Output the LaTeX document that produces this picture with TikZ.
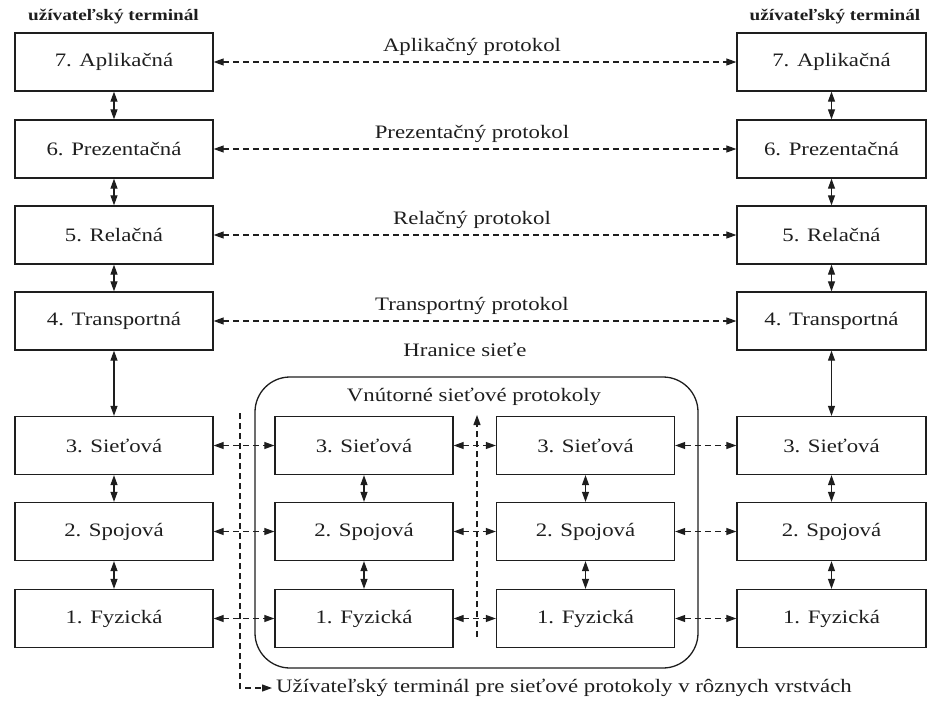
\documentclass[tikz,border=0pt]{standalone}
\usepackage{fontspec}
\setmainfont{Liberation Serif}[FakeStretch=1.2]
\usetikzlibrary{arrows.meta}
\definecolor{ink}{HTML}{1e1e1e}
\begin{document}
\begin{tikzpicture}[x=1pt,y=-1pt,
  >={Triangle[length=10pt,width=7pt]},
  layer/.style={draw=ink, line width=1.3pt, minimum height=58pt, inner sep=0pt, text=ink, font=\fontsize{19}{21}\selectfont},
  lw/.style={layer, minimum width=198pt},
  rw/.style={layer, minimum width=189pt},
  iw/.style={layer, minimum width=178pt},
  dual/.style={draw=ink, line width=1.1pt, <->},
  dashdual/.style={dual, dash pattern=on 6pt off 4pt},
  oneway/.style={draw=ink, line width=1.1pt, dash pattern=on 6pt off 4pt, ->},
  lbl/.style={text=ink, font=\fontsize{19}{21}\selectfont, inner sep=0pt},
  hdr/.style={text=ink, font=\bfseries\fontsize{16}{18}\selectfont, inner sep=0pt}]
\useasboundingbox (0,0) rectangle (929,704);

% headers
\node[hdr] (hl) at (113.5,17) {užívateľský terminál};
\node[hdr] (hr) at (835,17) {užívateľský terminál};

% left column
\node[lw] (L7) at (114,62) {7. Aplikačná};
\node[lw] (L6) at (114,149) {6. Prezentačná};
\node[lw] (L5) at (114,235) {5. Relačná};
\node[lw] (L4) at (114,321) {4. Transportná};
\node[lw] (L3) at (114,445.5) {3. Sieťová};
\node[lw] (L2) at (114,531.5) {2. Spojová};
\node[lw] (L1) at (114,618.5) {1. Fyzická};

% right column
\node[rw] (R7) at (831.5,62) {7. Aplikačná};
\node[rw] (R6) at (831.5,149) {6. Prezentačná};
\node[rw] (R5) at (831.5,235) {5. Relačná};
\node[rw] (R4) at (831.5,321) {4. Transportná};
\node[rw] (R3) at (831.5,445.5) {3. Sieťová};
\node[rw] (R2) at (831.5,531.5) {2. Spojová};
\node[rw] (R1) at (831.5,618.5) {1. Fyzická};

% network boundary
\node[draw=ink, line width=1.3pt, rounded corners=35pt, minimum width=443pt, minimum height=291pt, inner sep=0pt] (net) at (476.5,522.5) {};
\node[lbl] (hran) at (465,350) {Hranice sieťe};
\node[lbl] (vnut) at (474,397) {Vnútorné sieťové protokoly};

% inner nodes
\node[iw] (I3) at (364,445.5) {3. Sieťová};
\node[iw] (I2) at (364,531.5) {2. Spojová};
\node[iw] (I1) at (364,618.5) {1. Fyzická};
\node[iw] (J3) at (585.5,445.5) {3. Sieťová};
\node[iw] (J2) at (585.5,531.5) {2. Spojová};
\node[iw] (J1) at (585.5,618.5) {1. Fyzická};

% protocol labels
\node[lbl] (pa) at (472,47) {Aplikačný protokol};
\node[lbl] (pp) at (472,134) {Prezentačný protokol};
\node[lbl] (pr) at (472,220) {Relačný protokol};
\node[lbl] (pt) at (472,306) {Transportný protokol};

% peer protocol arrows
\draw[dashdual] (L7) -- (R7);
\draw[dashdual] (L6) -- (R6);
\draw[dashdual] (L5) -- (R5);
\draw[dashdual] (L4) -- (R4);

% vertical arrows
\foreach \c in {L,R}{
  \draw[dual] (\c7) -- (\c6);
  \draw[dual] (\c6) -- (\c5);
  \draw[dual] (\c5) -- (\c4);
  \draw[dual] (\c4) -- (\c3);
  \draw[dual] (\c3) -- (\c2);
  \draw[dual] (\c2) -- (\c1);
}
\foreach \c in {I,J}{
  \draw[dual] (\c3) -- (\c2);
  \draw[dual] (\c2) -- (\c1);
}

% horizontal lower arrows
\foreach \n in {3,2,1}{
  \draw[dashdual] (L\n) -- (I\n);
  \draw[dashdual] (I\n) -- (J\n);
  \draw[dashdual] (J\n) -- (R\n);
}

% vertical dashed lines
\coordinate (mbot) at (477,637);
\coordinate (mtop) at (477,415);
\draw[oneway] (mbot) -- (mtop);

\node[lbl, anchor=west] (note) at (276,688) {Užívateľský terminál pre sieťové protokoly v rôznych vrstvách};
\coordinate (dtop) at (240,413);
\coordinate (dcorner) at (240,688);
\draw[oneway, shorten >=4pt] (dtop) -- (dcorner) -- (note.west);
\end{tikzpicture}
\end{document}
